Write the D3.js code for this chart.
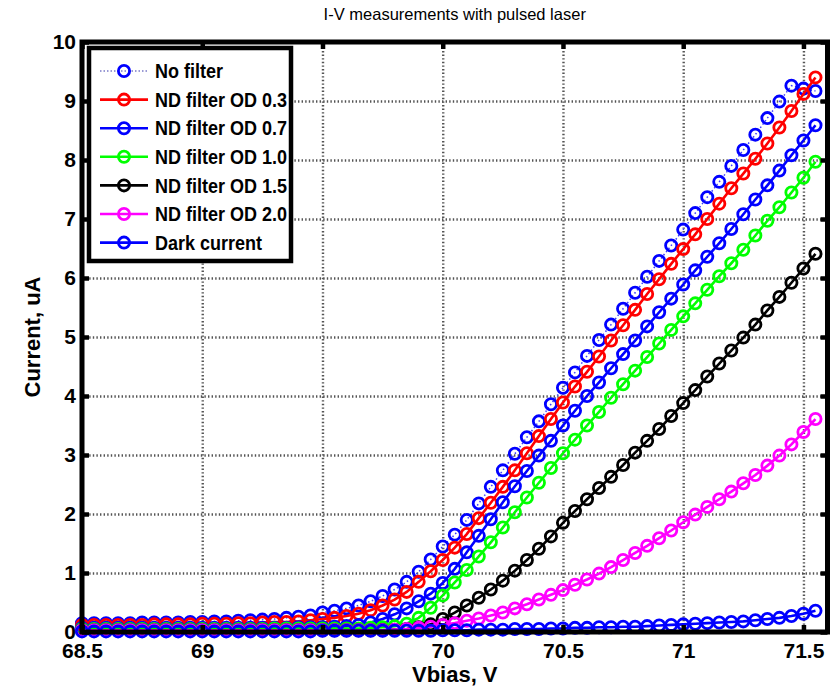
<!DOCTYPE html>
<html>
<head>
<meta charset="utf-8">
<script src="https://cdn.jsdelivr.net/npm/d3@7"></script>
<style>
  body { margin: 0; background: #fff; }
  text { font-family: "Liberation Sans", Arial, sans-serif; }
</style>
</head>
<body>
<div id="chart"></div>
<script>
/** data **/
let vbias = [68.50, 68.55, 68.60, 68.65, 68.70, 68.75, 68.80, 68.85, 68.90, 68.95,
             69.00, 69.05, 69.10, 69.15, 69.20, 69.25, 69.30, 69.35, 69.40, 69.45,
             69.50, 69.55, 69.60, 69.65, 69.70, 69.75, 69.80, 69.85, 69.90, 69.95,
             70.00, 70.05, 70.10, 70.15, 70.20, 70.25, 70.30, 70.35, 70.40, 70.45,
             70.50, 70.55, 70.60, 70.65, 70.70, 70.75, 70.80, 70.85, 70.90, 70.95,
             71.00, 71.05, 71.10, 71.15, 71.20, 71.25, 71.30, 71.35, 71.40, 71.45,
             71.50, 71.55];

let noFilter = [0.15, 0.15, 0.15, 0.15, 0.15, 0.16, 0.16, 0.16, 0.16, 0.17,
                0.17, 0.18, 0.18, 0.19, 0.20, 0.21, 0.22, 0.24, 0.26, 0.28,
                0.33, 0.36, 0.40, 0.45, 0.52, 0.61, 0.72, 0.85, 1.02, 1.23,
                1.45, 1.65, 1.90, 2.18, 2.46, 2.74, 3.02, 3.30, 3.57, 3.86,
                4.14, 4.40, 4.68, 4.95, 5.21, 5.48, 5.75, 6.02, 6.29, 6.55,
                6.82, 7.10, 7.37, 7.63, 7.90, 8.17, 8.43, 8.71, 8.99, 9.26,
                9.21, 9.17];

let od03 = [0.12, 0.12, 0.12, 0.12, 0.12, 0.12, 0.13, 0.13, 0.13, 0.13,
            0.14, 0.14, 0.14, 0.15, 0.15, 0.16, 0.17, 0.17, 0.18, 0.20,
            0.22, 0.24, 0.27, 0.31, 0.37, 0.45, 0.55, 0.68, 0.85, 1.03,
            1.22, 1.43, 1.66, 1.93, 2.19, 2.46, 2.74, 3.03, 3.32, 3.61,
            3.89, 4.16, 4.41, 4.67, 4.94, 5.20, 5.46, 5.73, 5.98, 6.24,
            6.49, 6.74, 7.00, 7.26, 7.52, 7.77, 8.02, 8.28, 8.55, 8.83,
            9.12, 9.40];

let od07 = [0.07, 0.07, 0.07, 0.07, 0.07, 0.07, 0.07, 0.07, 0.07, 0.07,
            0.07, 0.07, 0.07, 0.07, 0.07, 0.07, 0.07, 0.07, 0.08, 0.08,
            0.08, 0.09, 0.10, 0.12, 0.16, 0.22, 0.30, 0.40, 0.52, 0.65,
            0.83, 1.07, 1.35, 1.63, 1.91, 2.20, 2.47, 2.73, 2.99, 3.24,
            3.50, 3.75, 4.00, 4.23, 4.47, 4.71, 4.94, 5.18, 5.42, 5.65,
            5.89, 6.13, 6.36, 6.59, 6.83, 7.08, 7.33, 7.57, 7.82, 8.08,
            8.33, 8.59];

let od10 = [0.05, 0.05, 0.05, 0.05, 0.05, 0.05, 0.05, 0.05, 0.05, 0.05,
            0.05, 0.05, 0.05, 0.05, 0.05, 0.05, 0.06, 0.06, 0.06, 0.06,
            0.06, 0.06, 0.06, 0.06, 0.07, 0.08, 0.10, 0.14, 0.24, 0.41,
            0.62, 0.84, 1.05, 1.28, 1.52, 1.77, 2.03, 2.28, 2.53, 2.78,
            3.03, 3.26, 3.50, 3.73, 3.97, 4.20, 4.43, 4.66, 4.89, 5.12,
            5.35, 5.57, 5.80, 6.03, 6.25, 6.48, 6.72, 6.97, 7.20, 7.45,
            7.70, 7.97];

let od15 = [0.03, 0.03, 0.03, 0.03, 0.03, 0.03, 0.03, 0.03, 0.03, 0.03,
            0.03, 0.03, 0.03, 0.03, 0.03, 0.03, 0.03, 0.03, 0.03, 0.03,
            0.03, 0.03, 0.03, 0.03, 0.03, 0.03, 0.04, 0.05, 0.08, 0.13,
            0.22, 0.33, 0.45, 0.58, 0.72, 0.87, 1.04, 1.22, 1.41, 1.62,
            1.85, 2.05, 2.25, 2.44, 2.63, 2.83, 3.04, 3.24, 3.44, 3.66,
            3.88, 4.10, 4.33, 4.55, 4.77, 4.99, 5.21, 5.45, 5.68, 5.92,
            6.16, 6.41];

let od20 = [0.03, 0.03, 0.03, 0.03, 0.03, 0.03, 0.03, 0.03, 0.03, 0.03,
            0.03, 0.03, 0.03, 0.03, 0.03, 0.03, 0.03, 0.03, 0.03, 0.03,
            0.03, 0.03, 0.03, 0.03, 0.03, 0.03, 0.04, 0.05, 0.07, 0.09,
            0.12, 0.15, 0.19, 0.23, 0.28, 0.33, 0.40, 0.47, 0.55, 0.63,
            0.71, 0.80, 0.89, 0.99, 1.10, 1.22, 1.34, 1.46, 1.59, 1.72,
            1.86, 1.99, 2.12, 2.25, 2.38, 2.52, 2.66, 2.82, 2.99, 3.18,
            3.39, 3.61];

let darkCurrent = [0.01, 0.01, 0.01, 0.01, 0.01, 0.01, 0.01, 0.01, 0.01, 0.01,
                   0.01, 0.01, 0.01, 0.01, 0.01, 0.01, 0.01, 0.01, 0.01, 0.01,
                   0.02, 0.02, 0.02, 0.02, 0.02, 0.02, 0.02, 0.02, 0.02, 0.02,
                   0.03, 0.03, 0.03, 0.04, 0.04, 0.04, 0.05, 0.05, 0.05, 0.06,
                   0.06, 0.07, 0.07, 0.08, 0.08, 0.09, 0.09, 0.10, 0.11, 0.12,
                   0.13, 0.14, 0.15, 0.16, 0.17, 0.18, 0.20, 0.22, 0.24, 0.27,
                   0.31, 0.36];

let seriesNames = ["No filter", "ND filter OD 0.3", "ND filter OD 0.7", "ND filter OD 1.0",
                   "ND filter OD 1.5", "ND filter OD 2.0", "Dark current"];
let seriesValues = [noFilter, od03, od07, od10, od15, od20, darkCurrent];
let seriesColors = ["#0000ff", "#ff0000", "#0000ff", "#00ff00", "#000000", "#ff00ff", "#0000ff"];
let seriesDotted = [true, false, false, false, false, false, false];

let xTicks = [68.5, 69, 69.5, 70, 70.5, 71, 71.5];
let yTicks = [0, 1, 2, 3, 4, 5, 6, 7, 8, 9, 10];

/** layout **/
let W = 839, H = 687,
    margin = {top: 42, right: 11.5, bottom: 55, left: 82},
    width = W - margin.left - margin.right,
    height = H - margin.top - margin.bottom;

let svg = d3.select("#chart").append("svg")
    .attr("width", W)
    .attr("height", H)
    .style("background", "#fff");

let xScale = d3.scaleLinear().domain([68.5, 71.6]).range([0, width]);
let yScale = d3.scaleLinear().domain([0, 10]).range([height, 0]);

let g = svg.append("g")
    .attr("transform", "translate(" + margin.left + "," + margin.top + ")");

/* dotted grid */
let xGrid = d3.axisBottom(xScale).tickValues(xTicks).tickSize(-height).tickFormat("");
let yGrid = d3.axisLeft(yScale).tickValues(yTicks).tickSize(-width).tickFormat("");

g.append("g").attr("class", "grid")
    .attr("transform", "translate(0," + height + ")")
    .call(xGrid);
g.append("g").attr("class", "grid")
    .call(yGrid);

g.selectAll(".grid .domain").remove();
g.selectAll(".grid line")
    .attr("stroke", "#555")
    .attr("stroke-width", 2.4)
    .attr("stroke-dasharray", "1.4,2.2");

/* series */
let line = d3.line()
    .x(function(d, i) { return xScale(vbias[i]); })
    .y(function(d) { return yScale(d); });

seriesValues.forEach(function(vals, k) {
  let sg = g.append("g").attr("class", "series");
  sg.append("path")
      .datum(vals)
      .attr("fill", "none")
      .attr("stroke", seriesDotted[k] ? "#3a3aff" : seriesColors[k])
      .attr("stroke-width", seriesDotted[k] ? 1.5 : 2.6)
      .attr("stroke-dasharray", seriesDotted[k] ? "1.5,2.5" : null)
      .attr("d", line);
  sg.selectAll("circle")
      .data(vals)
      .enter().append("circle")
      .attr("cx", function(d, i) { return xScale(vbias[i]); })
      .attr("cy", function(d) { return yScale(d); })
      .attr("r", 5.6)
      .attr("fill", "none")
      .attr("stroke", seriesColors[k])
      .attr("stroke-width", 2.8);
});

/* axes: inward ticks on all four sides, thick box */
let tickFont = 21;

let xAxisB = d3.axisBottom(xScale).tickValues(xTicks).tickSizeInner(-7).tickSizeOuter(0)
    .tickPadding(11).tickFormat(d3.format(""));
let xAxisT = d3.axisTop(xScale).tickValues(xTicks).tickSizeInner(-7).tickSizeOuter(0).tickFormat("");
let yAxisL = d3.axisLeft(yScale).tickValues(yTicks).tickSizeInner(-7).tickSizeOuter(0)
    .tickPadding(6).tickFormat(d3.format(""));
let yAxisR = d3.axisRight(yScale).tickValues(yTicks).tickSizeInner(-7).tickSizeOuter(0).tickFormat("");

g.append("g").attr("class", "axis")
    .attr("transform", "translate(0," + height + ")").call(xAxisB);
g.append("g").attr("class", "axis").call(xAxisT);
g.append("g").attr("class", "axis").call(yAxisL);
g.append("g").attr("class", "axis")
    .attr("transform", "translate(" + width + ",0)").call(yAxisR);

g.selectAll(".axis .domain").remove();
g.selectAll(".axis line").attr("stroke", "#000").attr("stroke-width", 4.5);
g.selectAll(".axis text")
    .attr("fill", "#000")
    .style("font-size", tickFont + "px")
    .style("font-weight", "bold");

g.append("rect")
    .attr("x", 0).attr("y", 0)
    .attr("width", width).attr("height", height)
    .attr("fill", "none")
    .attr("stroke", "#000")
    .attr("stroke-width", 5);

/* legend */
let legend = g.append("g").attr("class", "legend")
    .attr("transform", "translate(7,6)");

legend.append("rect")
    .attr("x", 0).attr("y", 0)
    .attr("width", 202).attr("height", 213)
    .attr("fill", "#fff")
    .attr("stroke", "#000")
    .attr("stroke-width", 4.5);

seriesNames.forEach(function(name, k) {
  let row = legend.append("g")
      .attr("transform", "translate(0," + (23 + k * 28.6) + ")");
  row.append("line")
      .attr("x1", 11).attr("x2", 59).attr("y1", 0).attr("y2", 0)
      .attr("stroke", seriesDotted[k] ? "#7a7ac8" : seriesColors[k])
      .attr("stroke-width", seriesDotted[k] ? 1.5 : 2.6)
      .attr("stroke-dasharray", seriesDotted[k] ? "1.5,2" : null);
  row.append("circle")
      .attr("cx", 35).attr("cy", 0).attr("r", 5.6)
      .attr("fill", "none")
      .attr("stroke", seriesColors[k])
      .attr("stroke-width", 2.8);
  row.append("text")
      .attr("transform", "translate(66,0) scale(0.9,1)")
      .attr("dy", "0.36em")
      .style("font-size", "20px")
      .style("font-weight", "bold")
      .text(name);
});

/* titles */
svg.append("text")
    .attr("x", margin.left + width / 2).attr("y", 20)
    .attr("text-anchor", "middle")
    .style("font-size", "16.5px")
    .text("I-V measurements with pulsed laser");

svg.append("text")
    .attr("x", margin.left + width / 2).attr("y", 682)
    .attr("text-anchor", "middle")
    .style("font-size", "22px")
    .style("font-weight", "bold")
    .text("Vbias, V");

svg.append("text")
    .attr("transform", "translate(40," + (margin.top + height / 2) + ") rotate(-90)")
    .attr("text-anchor", "middle")
    .style("font-size", "22px")
    .style("font-weight", "bold")
    .text("Current, uA");
</script>
</body>
</html>
